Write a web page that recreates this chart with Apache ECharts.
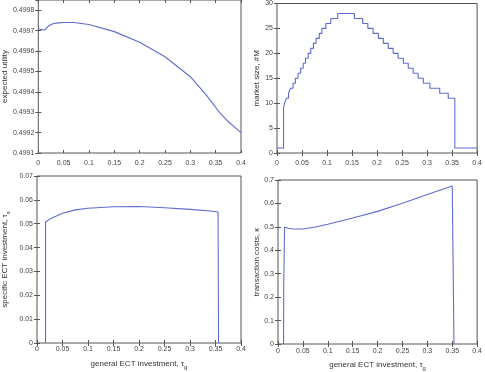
<!DOCTYPE html>
<html><head><meta charset="utf-8">
<script src="https://cdn.jsdelivr.net/npm/echarts@6/dist/echarts.min.js"></script>
<style>html,body{margin:0;padding:0;background:#fff}#c{width:485px;height:372px}</style>
</head><body><div id="c"></div>
<script>
// ---- data ----
const utilX = [0, 0.005, 0.013, 0.02, 0.03, 0.04, 0.05, 0.07, 0.1, 0.15, 0.2, 0.25, 0.3, 0.33, 0.35, 0.355, 0.375, 0.4];
const utilY = [0.49971, 0.499705, 0.499703, 0.499722, 0.499735, 0.499738, 0.49974, 0.49974, 0.49973, 0.499695, 0.499643, 0.499572, 0.499474, 0.499389, 0.499324, 0.499306, 0.499253, 0.4992];

const marketX = [0, 0.0131, 0.0151, 0.019, 0.023, 0.0269, 0.0321, 0.0367, 0.042, 0.0472, 0.0525, 0.057, 0.0623, 0.0675, 0.0728, 0.078, 0.0846, 0.0898, 0.0977, 0.1075, 0.1213, 0.1548, 0.1711, 0.1816, 0.1921, 0.2026, 0.2125, 0.2223, 0.2321, 0.242, 0.2525, 0.2623, 0.2721, 0.282, 0.2925, 0.3056, 0.3252, 0.3423, 0.3554, 0.4];
const marketY = [1, 9, 10, 11, 12, 13, 14, 15, 16, 17, 18, 19, 20, 21, 22, 23, 24, 25, 26, 27, 28, 27, 26, 25, 24, 23, 22, 21, 20, 19, 18, 17, 16, 15, 14, 13, 12, 11, 1, 1];

const specX = [0.0168, 0.0168, 0.025, 0.05, 0.075, 0.1, 0.15, 0.2, 0.25, 0.3, 0.34, 0.355, 0.356];
const specY = [0, 0.0506, 0.052, 0.0544, 0.0558, 0.0565, 0.0571, 0.0572, 0.0567, 0.056, 0.0553, 0.0549, 0];

const transX = [0.0112, 0.0115, 0.0132, 0.02, 0.03, 0.05, 0.075, 0.1, 0.15, 0.2, 0.25, 0.3, 0.35, 0.352, 0.3535];
const transY = [0, 0.25, 0.4996, 0.494, 0.491, 0.491, 0.4996, 0.511, 0.538, 0.566, 0.601, 0.638, 0.674, 0.679, 0];

const xTicks = [0, 0.05, 0.1, 0.15, 0.2, 0.25, 0.3, 0.35, 0.4];
const utilTicks = [0.4991, 0.4992, 0.4993, 0.4994, 0.4995, 0.4996, 0.4997, 0.4998];
const marketTicks = [0, 5, 10, 15, 20, 25, 30];
const specTicks = [0, 0.01, 0.02, 0.03, 0.04, 0.05, 0.06, 0.07];
const transTicks = [0, 0.1, 0.2, 0.3, 0.4, 0.5, 0.6, 0.7];

// ---- chart ----
const zip = (a, b) => a.map((v, i) => [v, b[i]]);
const FONT = 'Liberation Sans';
const LINE = '#5e6bd0';
const AX = '#555';

const grids = [
  {left: 38, top: 0, width: 203, height: 153},
  {left: 277, top: 3, width: 204, height: 150},
  {left: 37, top: 176, width: 204, height: 167},
  {left: 278, top: 180, width: 203, height: 166}
].map(g => Object.assign({show: true, borderColor: AX, borderWidth: 1, backgroundColor: 'transparent'}, g));

const yConf = [
  {ticks: utilTicks, dec: 4, max: 0.49985, name: 'expected utility', gap: 28},
  {ticks: marketTicks, dec: 0, max: 30, name: 'market size, #M', gap: 16},
  {ticks: specTicks, dec: 2, max: 0.07, name: '{a|specific ECT investment, τ}{s|s}', gap: 26},
  {ticks: transTicks, dec: 1, max: 0.7, name: '{a|transaction costs, κ}', gap: 17}
];
const xNames = ['', '', '{a|general ECT investment, τ}{s|g}', '{a|general ECT investment, τ}{s|g}'];
const xMargins = [7, 7, 3, 4];

const richName = {
  a: {fontFamily: FONT, fontSize: 8, color: '#333'},
  s: {fontFamily: FONT, fontSize: 6, color: '#333', padding: [6, 0, 0, 0]}
};

const xAxes = [], yAxes = [];
for (let i = 0; i < 4; i++) {
  const xt = xTicks, yc = yConf[i];
  const xInt = xt[1] - xt[0];
  const yInt = +(yc.ticks[1] - yc.ticks[0]).toFixed(6);
  const common = {
    gridIndex: i, type: 'value', splitLine: {show: false},
    axisLine: {show: false},
    axisTick: {show: true, inside: true, length: 3, lineStyle: {color: AX, width: 1}}
  };
  xAxes.push(Object.assign({}, common, {
    position: 'bottom', min: xt[0], max: xt[xt.length - 1], interval: xInt,
    axisLabel: {fontFamily: FONT, fontSize: 7, color: '#444', margin: xMargins[i],
      formatter: v => String(+v.toFixed(2))},
    name: xNames[i], nameLocation: 'middle', nameGap: 15,
    nameTextStyle: {rich: richName}
  }));
  xAxes.push(Object.assign({}, common, {
    position: 'top', min: xt[0], max: xt[xt.length - 1], interval: xInt,
    axisLabel: {show: false}
  }));
  yAxes.push(Object.assign({}, common, {
    position: 'left', min: yc.ticks[0], max: yc.max, interval: yInt,
    axisLabel: {fontFamily: FONT, fontSize: 7, color: '#444', margin: 4, showMaxLabel: yc.max === yc.ticks[yc.ticks.length - 1],
      formatter: (v => String(+v.toFixed(yc.dec)))},
    name: yc.name, nameLocation: 'middle', nameGap: yc.gap, nameRotate: 90,
    nameTextStyle: {fontFamily: FONT, fontSize: 8, color: '#333', rich: richName}
  }));
  yAxes.push(Object.assign({}, common, {
    position: 'right', min: yc.ticks[0], max: yc.max, interval: yInt,
    axisLabel: {show: false}
  }));
}

const mk = (i, data, step) => ({
  type: 'line', xAxisIndex: 2 * i, yAxisIndex: 2 * i, data: data,
  showSymbol: false, symbol: 'none', step: step || false, animation: false,
  lineStyle: {color: LINE, width: 1.1}, itemStyle: {color: LINE}
});

const chart = echarts.init(document.getElementById('c'), null, {renderer: 'canvas'});
chart.setOption({
  animation: false,
  grid: grids,
  xAxis: xAxes,
  yAxis: yAxes,
  series: [
    mk(0, zip(utilX, utilY)),
    mk(1, zip(marketX, marketY), 'end'),
    mk(2, zip(specX, specY)),
    mk(3, zip(transX, transY))
  ]
});
</script></body></html>
